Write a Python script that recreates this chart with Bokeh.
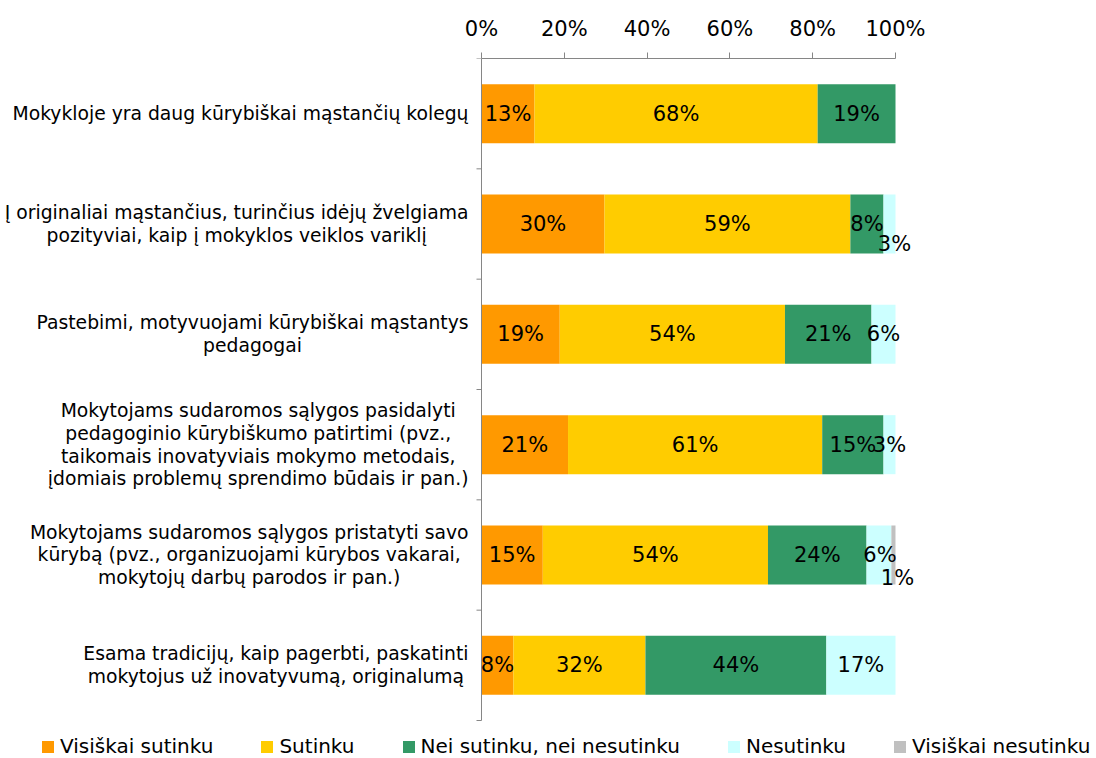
import numpy as np
from bokeh.plotting import figure
from bokeh.models import (Range1d, FixedTicker, Label, LabelSet, ColumnDataSource,
                          Legend, LegendItem)
from bokeh.embed import file_html
from bokeh.resources import INLINE
from bokeh.core.properties import value

categories = [
    "Mokykloje yra daug kūrybiškai mąstančių kolegų",
    "Į originaliai mąstančius, turinčius idėjų žvelgiama\npozityviai, kaip į mokyklos veiklos variklį",
    "Pastebimi, motyvuojami kūrybiškai mąstantys\npedagogai",
    "Mokytojams sudaromos sąlygos pasidalyti\npedagoginio kūrybiškumo patirtimi (pvz.,\ntaikomais inovatyviais mokymo metodais,\nįdomiais problemų sprendimo būdais ir pan.)",
    "Mokytojams sudaromos sąlygos pristatyti savo\nkūrybą (pvz., organizuojami kūrybos vakarai,\nmokytojų darbų parodos ir pan.)",
    "Esama tradicijų, kaip pagerbti, paskatinti\nmokytojus už inovatyvumą, originalumą",
]
series = ["Visiškai sutinku", "Sutinku", "Nei sutinku, nei nesutinku", "Nesutinku", "Visiškai nesutinku"]
visiskai_sutinku = [12.8, 29.7, 18.9, 20.9, 14.8, 7.7]
sutinku = [68.4, 59.4, 54.4, 61.4, 54.4, 31.9]
nei_sutinku_nei_nesutinku = [18.8, 8.0, 20.9, 14.8, 23.8, 43.7]
nesutinku = [0.0, 2.9, 5.8, 2.9, 6.0, 16.7]
visiskai_nesutinku = [0.0, 0.0, 0.0, 0.0, 1.0, 0.0]
colors = ["#FF9900", "#FFCC00", "#339966", "#CCFFFF", "#C0C0C0"]
tick_values = [0, 20, 40, 60, 80, 100]
tick_labels = ["0%", "20%", "40%", "60%", "80%", "100%"]

# pixel nudges for overlapping data labels (row, series) -> (dx, dy down)
label_nudges = {(1, 3): (5, 20), (4, 4): (4, 23), (4, 3): (1, 0)}

# ---- layout (pixels) ----
W, H = 1096, 758
TOP = 58             # frame top (axis line)
PLOT_L, PLOT_R = 481, 895   # 0% and 100%
CAT_BOTTOM = 720     # bottom of last category band
FONT = "DejaVu Sans"
AXIS_COLOR = "#868686"

n = len(categories)
px_per_x = (PLOT_R - PLOT_L) / 100.0
px_per_y = (CAT_BOTTOM - TOP) / n
x_start = -PLOT_L / px_per_x
x_end = 100 + (W - PLOT_R) / px_per_x
y_end = n + (H - CAT_BOTTOM) / px_per_y

keys = ["s0", "s1", "s2", "s3", "s4"]
values = [visiskai_sutinku, sutinku, nei_sutinku_nei_nesutinku, nesutinku, visiskai_nesutinku]
ypos = [i + 0.5 for i in range(n)]

data = {"y": ypos}
for k, v in zip(keys, values):
    data[k] = v
source = ColumnDataSource(data)

p = figure(width=W, height=H, x_range=Range1d(x_start, x_end), y_range=Range1d(y_end, 0),
           x_axis_location="above", y_axis_location=None, output_backend="svg",
           toolbar_location=None, min_border_left=0, min_border_right=0,
           min_border_top=TOP, min_border_bottom=0)
p.outline_line_color = None
p.xgrid.visible = False
p.ygrid.visible = False

renderers = p.hbar_stack(keys, y="y", height=0.535, color=colors, line_color=None, source=source)

# vertical category axis at 0% with ticks at category boundaries
bounds = list(range(n + 1))
p.segment(x0=[0], y0=[0], x1=[0], y1=[n], line_color=AXIS_COLOR, line_width=1)
p.ray(x=[0] * len(bounds), y=bounds, length=5, length_units="screen", angle=np.pi,
      line_color=AXIS_COLOR, line_width=1)

# data labels
lx, ly, lt, ldx, ldy = [], [], [], [], []
for i in range(n):
    cum = 0.0
    for j, v in enumerate(values):
        val = v[i]
        if val > 0:
            lx.append(cum + val / 2)
            ly.append(ypos[i])
            lt.append(f"{round(val)}%")
            dx, dy = label_nudges.get((i, j), (0, 0))
            ldx.append(dx)
            ldy.append(-dy)
        cum += val
lsrc = ColumnDataSource(dict(x=lx, y=ly, text=lt, dx=ldx, dy=ldy))
p.add_layout(LabelSet(x="x", y="y", text="text", x_offset="dx", y_offset="dy", source=lsrc,
                      text_align="center", text_baseline="middle", text_font=value(FONT),
                      text_font_size=value("21px"), text_color="#000000"))

# category labels
for i, cat in enumerate(categories):
    p.add_layout(Label(x=0, y=ypos[i], x_offset=-13, text=cat, text_align="center",
                       anchor="center_right", text_baseline="middle", text_font=FONT,
                       text_font_size="18.75px", text_line_height=1.08, text_color="#000000"))

xa = p.xaxis[0]
xa.bounds = (0, 100)
xa.ticker = FixedTicker(ticks=tick_values)
xa.major_label_overrides = {t: l for t, l in zip(tick_values, tick_labels)}
xa.major_label_text_font = FONT
xa.major_label_text_font_size = "21px"
xa.major_label_text_color = "#000000"
xa.axis_line_color = AXIS_COLOR
xa.major_tick_line_color = AXIS_COLOR
xa.major_tick_out = 6
xa.major_tick_in = 0
xa.minor_tick_line_color = None
xa.major_label_standoff = 12

legend = Legend(items=[LegendItem(label=s, renderers=[r]) for s, r in zip(series, renderers)],
                orientation="horizontal", location=(40, 0), glyph_width=15, glyph_height=15,
                label_standoff=5, spacing=46, padding=0, margin=0, border_line_color=None,
                background_fill_alpha=0, label_text_font=FONT, label_text_font_size="20px",
                label_text_color="#000000")
p.add_layout(legend, "center")

open("out.html", "w").write(file_html(p, INLINE))
